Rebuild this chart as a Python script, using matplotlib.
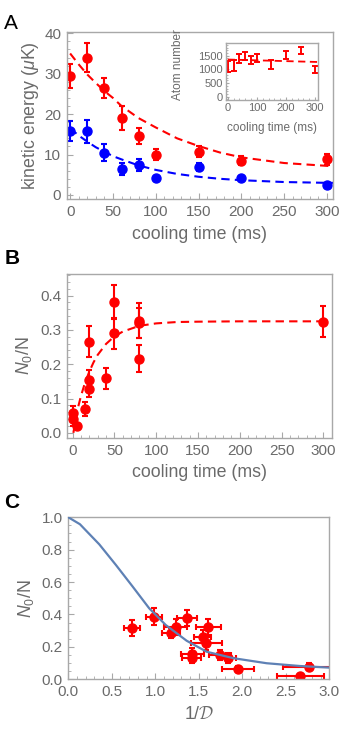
import numpy as np
import matplotlib as mpl
import matplotlib.pyplot as plt
from matplotlib.ticker import MultipleLocator

figQ = 100  # DPI
figName = "out.png"

# ---- panel A: kinetic energy vs cooling time
tA = [0, 20, 40, 60, 80, 100, 150, 200, 300]
keRed = [29.5, 34.0, 26.5, 19.0, 14.5, 10.0, 10.7, 8.5, 8.8]
keRedErr = [3.0, 3.5, 2.5, 3.0, 2.0, 1.3, 1.3, 1.2, 1.3]
keBlue = [15.8, 15.7, 10.5, 6.5, 7.5, 4.2, 7.0, 4.2, 2.5]
keBlueErr = [2.5, 2.8, 2.0, 1.5, 1.5, 0.5, 1.0, 0.5, 0.5]
tFit = [0, 10, 20, 30, 40, 50, 60, 80, 100, 125, 150, 175, 200, 250, 300, 307]
fitRed = [35.0, 32.3, 29.8, 27.7, 25.7, 24.0, 22.0, 19.0, 16.7, 14.0, 12.1, 10.5, 9.3, 7.9, 7.2, 7.1]
fitBlue = [16.5, 14.7, 13.2, 11.8, 10.7, 9.6, 8.8, 7.3, 6.2, 5.2, 4.5, 4.0, 3.65, 3.2, 3.0, 3.0]

# inset: atom number
tIn = [0, 20, 40, 60, 80, 100, 150, 200, 250, 300]
atoms = [1100, 1150, 1400, 1500, 1350, 1420, 1180, 1520, 1700, 1000]
atomsErr = [200, 200, 150, 150, 150, 150, 150, 150, 120, 130]
tInFit = [0, 310]
atomsFit = [1360, 1270]

# ---- panel B: condensate fraction vs cooling time
tB = [0, 1, 5, 15, 20, 20, 20, 40, 50, 50, 80, 80, 80, 300]
fracB = [0.039, 0.057, 0.020, 0.069, 0.265, 0.154, 0.128, 0.159, 0.381, 0.290, 0.327, 0.320, 0.216, 0.324]
fracBErr = [0.02, 0.02, 0.01, 0.02, 0.045, 0.03, 0.025, 0.03, 0.05, 0.045, 0.05, 0.045, 0.04, 0.045]
tFitB = [1, 5, 10, 15, 20, 25, 30, 40, 50, 60, 80, 100, 125, 150, 200, 300]
fitB = [0.0, 0.059, 0.107, 0.147, 0.178, 0.205, 0.227, 0.259, 0.281, 0.295, 0.312, 0.319, 0.323, 0.324, 0.325, 0.325]

# ---- panel C: condensate fraction vs 1/D
invD = [0.73, 0.985, 1.18, 1.235, 1.36, 1.425, 1.42, 1.545, 1.61, 1.585, 1.745, 1.83, 1.95, 2.665, 2.77]
invDErr = [0.09, 0.09, 0.1, 0.13, 0.115, 0.13, 0.11, 0.1, 0.14, 0.18, 0.13, 0.1, 0.18, 0.27, 0.3]
fracC = [0.315, 0.387, 0.284, 0.325, 0.376, 0.156, 0.13, 0.263, 0.321, 0.222, 0.15, 0.13, 0.064, 0.02, 0.078]
fracCErr = [0.05, 0.05, 0.03, 0.05, 0.05, 0.04, 0.03, 0.04, 0.05, 0.04, 0.03, 0.03, 0.02, 0.01, 0.02]
xTheory = [0.0, 0.134, 0.2, 0.356, 0.548, 0.74, 0.93, 1.12, 1.36, 1.59, 1.9, 2.28, 2.66, 3.0]
yTheory = [1.0, 0.957, 0.92, 0.833, 0.705, 0.572, 0.438, 0.335, 0.238, 0.17, 0.13, 0.099, 0.082, 0.072]

gray = '#6a6a6a'
frame = '#a8a8a8'
red = '#ff0000'
blue = '#0000ff'
curveC = '#5e81b5'

mpl.rcParams['font.family'] = ['Liberation Sans', 'DejaVu Sans']
mpl.rcParams['mathtext.fontset'] = 'custom'
mpl.rcParams['mathtext.rm'] = 'Liberation Sans'
mpl.rcParams['mathtext.it'] = 'Liberation Sans:italic'
mpl.rcParams['mathtext.cal'] = 'cmsy10'


def style(ax, fs=11):
	for s in ax.spines.values():
		s.set_color(frame)
		s.set_linewidth(1.0)
	ax.tick_params(which='both', direction='in', colors=frame, labelcolor=gray,
		labelsize=fs, top=False, right=False)
	ax.tick_params(which='major', length=4, width=0.8, pad=4)
	ax.tick_params(which='minor', length=2, width=0.6)


ebkw = dict(fmt='o', ms=6.5, elinewidth=1.5, capsize=2.5, capthick=1.5)
labfs = 12.8

fig = plt.figure(figsize=(3.46, 7.33), dpi=figQ)

# panel A
axA = fig.add_axes([0.1928, 0.7285, 0.9624 - 0.1928, 0.9563 - 0.7285])
axA.plot(tFit, fitRed, '--', color=red, lw=1.5, dashes=(4, 2.5))
axA.plot(tFit, fitBlue, '--', color=blue, lw=1.5, dashes=(4, 2.5))
axA.errorbar(tA, keRed, yerr=keRedErr, color=red, **ebkw)
axA.errorbar(tA, keBlue, yerr=keBlueErr, color=blue, **ebkw)
axA.set_xlim(-4, 307); axA.set_ylim(-1, 40.3)
axA.set_xticks([0, 50, 100, 150, 200, 250, 300]); axA.set_yticks([0, 10, 20, 30, 40])
axA.xaxis.set_minor_locator(MultipleLocator(10)); axA.yaxis.set_minor_locator(MultipleLocator(2))
style(axA)
axA.set_xlabel('cooling time (ms)', color=gray, fontsize=labfs, labelpad=5)
axA.set_ylabel(r'kinetic energy ($\mu$K)', color=gray, fontsize=labfs, labelpad=2)

# inset
axI = fig.add_axes([0.6523, 0.8636, 0.92 - 0.6523, 0.9417 - 0.8636])
axI.plot(tInFit, atomsFit, '--', color=red, lw=1.3, dashes=(4, 2.5))
axI.errorbar(tIn, atoms, yerr=atomsErr, fmt='none', ecolor=red, elinewidth=1.4, capsize=2, capthick=1.4)
axI.set_xlim(-7, 311); axI.set_ylim(-120, 1975)
axI.set_xticks([0, 100, 200, 300]); axI.set_yticks([0, 500, 1000, 1500])
axI.xaxis.set_minor_locator(MultipleLocator(20)); axI.yaxis.set_minor_locator(MultipleLocator(100))
style(axI, fs=8)
axI.tick_params(which='major', length=2.5, pad=2)
axI.tick_params(which='minor', length=1.2)
axI.set_xlabel('cooling time (ms)', color=gray, fontsize=8.5, labelpad=7)
axI.set_ylabel('Atom number', color=gray, fontsize=8.5, labelpad=2)
axI.yaxis.set_label_coords(-0.45, 0.62)

# panel B
axB = fig.add_axes([0.1928, 0.4025, 0.9587 - 0.1928, 0.6262 - 0.4025])
axB.plot(tFitB, fitB, '--', color=red, lw=1.5, dashes=(4, 2.5))
axB.errorbar(tB, fracB, yerr=fracBErr, color=red, **ebkw)
axB.set_xlim(-7, 310); axB.set_ylim(-0.015, 0.463)
axB.set_xticks([0, 50, 100, 150, 200, 250, 300]); axB.set_yticks([0.0, 0.1, 0.2, 0.3, 0.4])
axB.yaxis.set_major_formatter(mpl.ticker.FormatStrFormatter('%.1f'))
axB.xaxis.set_minor_locator(MultipleLocator(10)); axB.yaxis.set_minor_locator(MultipleLocator(0.02))
style(axB)
axB.set_xlabel('cooling time (ms)', color=gray, fontsize=labfs, labelpad=5)
axB.set_ylabel(r'$N_0$/N', color=gray, fontsize=labfs, labelpad=4)

# panel C
axC = fig.add_axes([0.1974, 0.0733, 0.9517 - 0.1974, 0.2943 - 0.0733])
axC.plot(xTheory, yTheory, '-', color=curveC, lw=1.6, zorder=3)
axC.errorbar(invD, fracC, xerr=invDErr, yerr=fracCErr, color=red, **ebkw)
axC.set_xlim(0, 3); axC.set_ylim(0, 1)
axC.set_xticks([0, 0.5, 1.0, 1.5, 2.0, 2.5, 3.0]); axC.set_yticks([0, 0.2, 0.4, 0.6, 0.8, 1.0])
axC.xaxis.set_major_formatter(mpl.ticker.FormatStrFormatter('%.1f'))
axC.yaxis.set_major_formatter(mpl.ticker.FormatStrFormatter('%.1f'))
axC.xaxis.set_minor_locator(MultipleLocator(0.1)); axC.yaxis.set_minor_locator(MultipleLocator(0.05))
style(axC)
axC.set_xlabel(r'1/$\mathcal{D}$', color=gray, fontsize=labfs, labelpad=5)
axC.set_ylabel(r'$N_0$/N', color=gray, fontsize=labfs, labelpad=4)

fig.text(0.012, 0.968, 'A', fontsize=15, color='black', va='center')
fig.text(0.012, 0.648, 'B', fontsize=15, color='black', fontweight='bold', va='center')
fig.text(0.012, 0.315, 'C', fontsize=15, color='black', fontweight='bold', va='center')

plt.savefig(figName, dpi=figQ)
